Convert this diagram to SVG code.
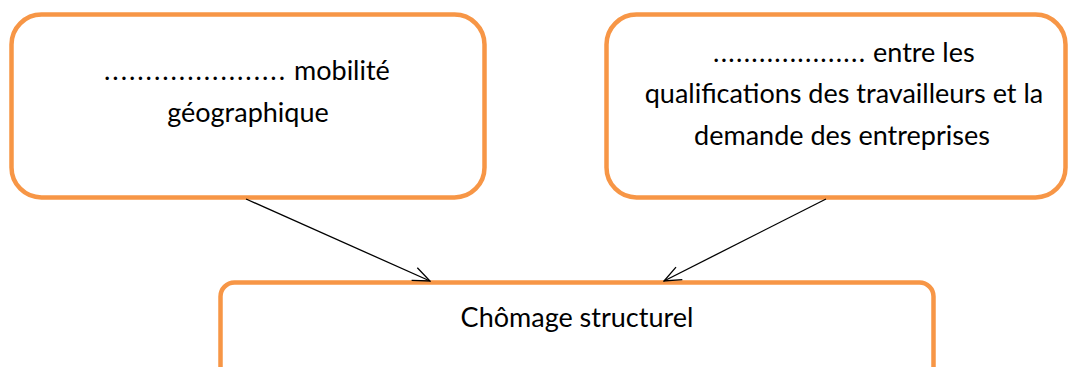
<svg xmlns="http://www.w3.org/2000/svg" width="1072" height="367" viewBox="0 0 1072 367">
<style>
.box{fill:#fff;stroke:#F79646;stroke-width:4.5}
.t{font-family:Lato,"Liberation Sans",sans-serif;font-size:27px;fill:#000;text-anchor:middle}
.s{text-anchor:start}
.c{stroke:#000;stroke-width:1.3;fill:none}
</style>
<defs>
<marker id="ah" viewBox="0 0 20 20" refX="19" refY="10" markerWidth="20" markerHeight="20" markerUnits="userSpaceOnUse" orient="auto">
<path d="M2,3 L19,10 L2,17" fill="none" stroke="#000" stroke-width="1.3"/>
</marker>
</defs>
<rect width="1072" height="367" fill="#fff"/>
<g id="node1">
<rect class="box" x="11.5" y="14.5" width="473" height="183" rx="30"/>
<text class="t s" x="104" y="80" textLength="181" lengthAdjust="spacing">......................</text>
<text class="t s" x="294" y="80">mobilité</text>
<text class="t" x="248" y="122">géographique</text>
</g>
<g id="node2">
<rect class="box" x="606.5" y="14.5" width="459" height="183" rx="30"/>
<text class="t s" x="713" y="62" textLength="152" lengthAdjust="spacing">....................</text>
<text class="t s" x="873" y="62">entre les</text>
<text class="t" x="844" y="103">qualifications des travailleurs et la</text>
<text class="t" x="842" y="145">demande des entreprises</text>
</g>
<g id="node3">
<rect class="box" x="220.5" y="282.5" width="713" height="110" rx="14"/>
<text class="t" x="577" y="327">Chômage structurel</text>
</g>
<g id="connectors">
<line class="c" x1="246" y1="199" x2="430" y2="281" marker-end="url(#ah)"/>
<line class="c" x1="826" y1="199" x2="664" y2="281" marker-end="url(#ah)"/>
</g>
</svg>
